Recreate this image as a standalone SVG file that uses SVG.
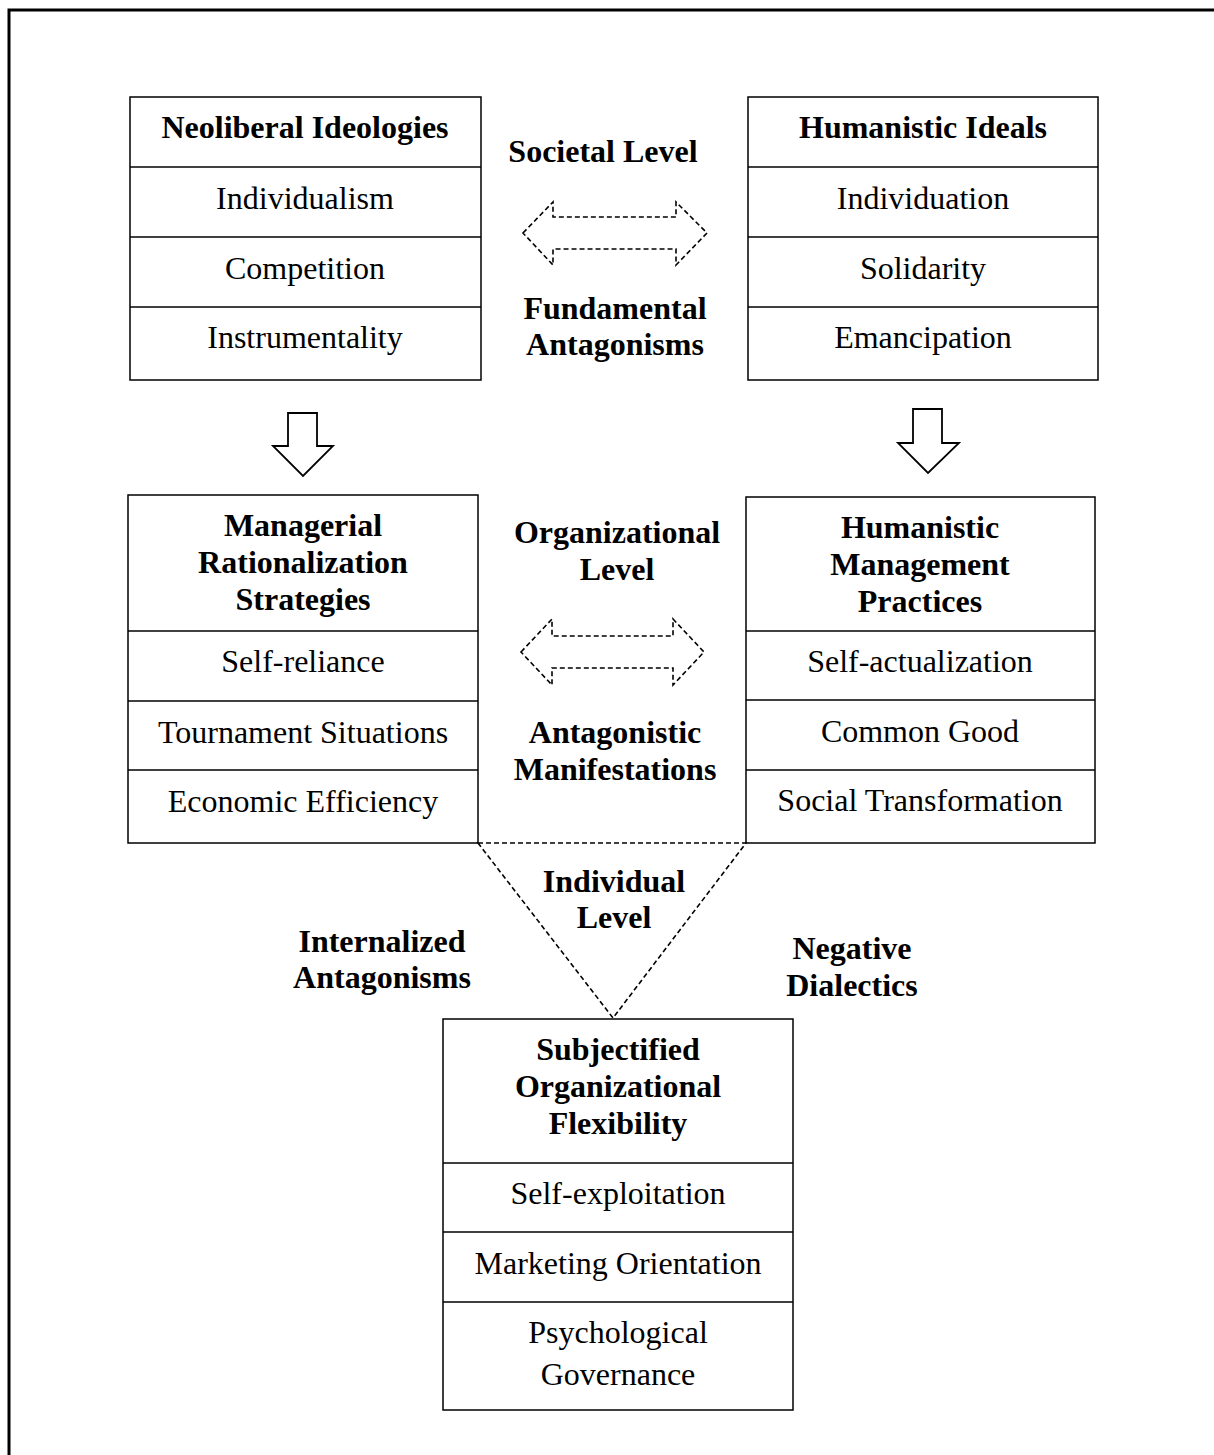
<svg xmlns="http://www.w3.org/2000/svg" width="1214" height="1455" viewBox="0 0 1214 1455">
<style>
.box{fill:#fff;stroke:#000;stroke-width:1.5}
.ln{stroke:#000;stroke-width:1.5}
.t{font-family:"Liberation Serif","Times New Roman",serif;font-size:32px;text-anchor:middle;fill:#000}
.b{font-weight:bold}
.dash{fill:none;stroke:#000;stroke-width:1.6;stroke-dasharray:5,3}
.arr{fill:#fff;stroke:#000;stroke-width:1.8}
</style>
<rect x="9" y="10" width="1215" height="1460" fill="#fff" stroke="#000" stroke-width="3"/>
<g id="neoliberal">
<rect class="box" x="130" y="97" width="351" height="283"/>
<line class="ln" x1="130" y1="167" x2="481" y2="167"/>
<line class="ln" x1="130" y1="237" x2="481" y2="237"/>
<line class="ln" x1="130" y1="307" x2="481" y2="307"/>
<text class="t b" x="305" y="138">Neoliberal Ideologies</text>
<text class="t" x="305" y="209">Individualism</text>
<text class="t" x="305" y="279">Competition</text>
<text class="t" x="305" y="348">Instrumentality</text>
</g>
<g id="humanistic-ideals">
<rect class="box" x="748" y="97" width="350" height="283"/>
<line class="ln" x1="748" y1="167" x2="1098" y2="167"/>
<line class="ln" x1="748" y1="237" x2="1098" y2="237"/>
<line class="ln" x1="748" y1="307" x2="1098" y2="307"/>
<text class="t b" x="923" y="138">Humanistic Ideals</text>
<text class="t" x="923" y="209">Individuation</text>
<text class="t" x="923" y="279">Solidarity</text>
<text class="t" x="923" y="348">Emancipation</text>
</g>
<g id="managerial">
<rect class="box" x="128" y="495" width="350" height="348"/>
<line class="ln" x1="128" y1="631" x2="478" y2="631"/>
<line class="ln" x1="128" y1="701" x2="478" y2="701"/>
<line class="ln" x1="128" y1="770" x2="478" y2="770"/>
<text class="t b" x="303" y="536">Managerial</text>
<text class="t b" x="303" y="573">Rationalization</text>
<text class="t b" x="303" y="610">Strategies</text>
<text class="t" x="303" y="672">Self-reliance</text>
<text class="t" x="303" y="743">Tournament Situations</text>
<text class="t" x="303" y="812">Economic Efficiency</text>
</g>
<g id="humanistic-management">
<rect class="box" x="746" y="497" width="349" height="346"/>
<line class="ln" x1="746" y1="631" x2="1095" y2="631"/>
<line class="ln" x1="746" y1="700" x2="1095" y2="700"/>
<line class="ln" x1="746" y1="770" x2="1095" y2="770"/>
<text class="t b" x="920" y="538">Humanistic</text>
<text class="t b" x="920" y="575">Management</text>
<text class="t b" x="920" y="612">Practices</text>
<text class="t" x="920" y="672">Self-actualization</text>
<text class="t" x="920" y="742">Common Good</text>
<text class="t" x="920" y="811">Social Transformation</text>
</g>
<g id="subjectified">
<rect class="box" x="443" y="1019" width="350" height="391"/>
<line class="ln" x1="443" y1="1163" x2="793" y2="1163"/>
<line class="ln" x1="443" y1="1232" x2="793" y2="1232"/>
<line class="ln" x1="443" y1="1302" x2="793" y2="1302"/>
<text class="t b" x="618" y="1060">Subjectified</text>
<text class="t b" x="618" y="1097">Organizational</text>
<text class="t b" x="618" y="1134">Flexibility</text>
<text class="t" x="618" y="1204">Self-exploitation</text>
<text class="t" x="618" y="1274">Marketing Orientation</text>
<text class="t" x="618" y="1343">Psychological</text>
<text class="t" x="618" y="1385">Governance</text>
</g>
<g id="labels">
<text class="t b" x="603" y="162">Societal Level</text>
<text class="t b" x="615" y="319">Fundamental</text>
<text class="t b" x="615" y="355">Antagonisms</text>
<text class="t b" x="617" y="543">Organizational</text>
<text class="t b" x="617" y="580">Level</text>
<text class="t b" x="615" y="743">Antagonistic</text>
<text class="t b" x="615" y="780">Manifestations</text>
<text class="t b" x="614" y="892">Individual</text>
<text class="t b" x="614" y="928">Level</text>
<text class="t b" x="382" y="952">Internalized</text>
<text class="t b" x="382" y="988">Antagonisms</text>
<text class="t b" x="852" y="959">Negative</text>
<text class="t b" x="852" y="996">Dialectics</text>
</g>
<g id="connectors">
<path class="arr" d="M288,413 H317 V446 H333 L303,476 L273,446 H288 Z"/>
<path class="arr" d="M913,409 H942 V443 H959 L928,473 L898,443 H913 Z"/>
<path class="dash" d="M523,233 L553,202 V217 H676 V202 L707,233 L676,265 V249 H553 V265 Z"/>
<path class="dash" d="M521,652 L552,619 V636 H673 V619 L704,652 L673,685 V668 H552 V685 Z"/>
<path class="dash" d="M478,843 H746 L613,1018 Z"/>
</g>
</svg>
